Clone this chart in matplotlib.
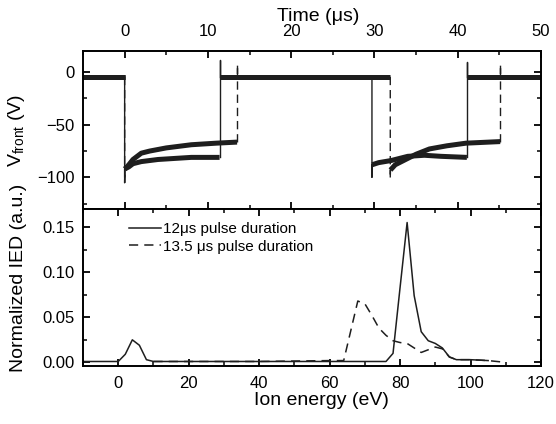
import matplotlib
matplotlib.use('Agg')
import matplotlib.pyplot as plt
from matplotlib.ticker import MultipleLocator, FormatStrFormatter
import numpy as np

plt.rcParams['font.family'] = ['Liberation Sans', 'DejaVu Sans']

# ---- Upper panel: front voltage vs time ----
time_12 = [-5, 0, 0, 0.02, 0.5, 1, 2, 4, 8, 11.4, 11.4, 11.4,
           29.7, 29.7, 29.72, 30.5, 32, 34, 36, 38, 41.1, 41.1, 41.1, 50]
vfront_12 = [-4.5, -4.5, -105, -92, -90, -87, -85, -83, -81, -81, 11, -4.5,
             -4.5, -100, -88, -86, -84, -80, -79, -80, -81, 9.5, -4.5, -4.5]

time_135 = [-5, 0, 0, 0.02, 0.5, 1, 2, 3, 5, 8, 11, 13.5, 13.5, 13.5,
            31.9, 31.9, 31.92, 32.5, 33.5, 35, 36.6, 38.7, 41, 45.1, 45.1, 45.1, 50]
vfront_135 = [-4.5, -4.5, -105, -92, -88, -83, -77, -75, -72, -69, -67.5, -66.5, 8, -4.5,
              -4.5, -101, -93, -88, -84, -78, -73, -70, -67.5, -66, 8, -4.5, -4.5]

# ---- Lower panel: normalized IED vs ion energy ----
energy_12 = [-10, 0, 2, 4, 6, 8, 10, 20, 40, 60, 76, 78, 80, 82, 84, 86, 88, 90, 92, 94, 96, 100, 105]
ied_12 = [0.001, 0.001, 0.009, 0.025, 0.019, 0.003, 0.001, 0.001, 0.001, 0.001, 0.001, 0.010,
          0.083, 0.155, 0.074, 0.034, 0.024, 0.021, 0.016, 0.006, 0.003, 0.003, 0.002]

energy_135 = [10, 20, 40, 60, 64, 68, 70, 72, 74, 76, 78, 80, 82, 84, 86, 88, 90, 92, 94, 96, 100, 105, 110]
ied_135 = [0.001, 0.001, 0.001, 0.002, 0.002, 0.068, 0.065, 0.052, 0.038, 0.030, 0.024, 0.022,
           0.021, 0.016, 0.011, 0.014, 0.017, 0.015, 0.006, 0.003, 0.003, 0.002, 0.000]

labels = ['12\u03bcs pulse duration', '13.5 \u03bcs pulse duration']

ink = '#1e1e1e'

fig = plt.figure(figsize=(5.56, 4.24), dpi=100)
ax1 = fig.add_axes([0.1493, 0.5071, 0.8237, 0.3726])
ax2 = fig.add_axes([0.1493, 0.1368, 0.8237, 0.3703])


def draw_trace(ax, t, v, ls):
    t = np.asarray(t, float)
    v = np.asarray(v, float)
    dt = np.diff(t)
    edge = dt <= 0.05
    start = 0
    n = len(dt)
    for i in range(1, n + 1):
        if i == n or edge[i] != edge[start]:
            st, sv = t[start:i + 1], v[start:i + 1]
            if edge[start]:
                ax.plot(st, sv, color=ink, lw=1.0, ls=ls)
            else:
                ax.plot(st, sv, color=ink, lw=3.6, ls='-', solid_capstyle='butt')
            start = i


draw_trace(ax1, time_12, vfront_12, '-')
draw_trace(ax1, time_135, vfront_135, (0, (6, 3.5)))

ax1.set_xlim(-5, 50)
ax1.set_ylim(-130, 20)
ax1.xaxis.set_major_locator(MultipleLocator(10))
ax1.xaxis.set_minor_locator(MultipleLocator(5))
ax1.yaxis.set_major_locator(MultipleLocator(50))
ax1.yaxis.set_minor_locator(MultipleLocator(25))
ax1.xaxis.set_label_position('top')
ax1.set_xlabel('Time (\u03bcs)', fontsize=14, labelpad=2)
ax1.xaxis.label.set_x(0.513)
ax1.set_ylabel(r'V$_{\mathregular{front}}$ (V)', fontsize=14)
ax1.yaxis.set_label_coords(-0.122, 0.5)

l1, = ax2.plot(energy_12, ied_12, color=ink, lw=1.1, ls='-')
l2, = ax2.plot(energy_135, ied_135, color=ink, lw=1.1, ls=(0, (6, 4)))
ax2.set_xlim(-10, 120)
ax2.set_ylim(-0.004, 0.17)
ax2.xaxis.set_major_locator(MultipleLocator(20))
ax2.xaxis.set_minor_locator(MultipleLocator(10))
ax2.yaxis.set_major_locator(MultipleLocator(0.05))
ax2.yaxis.set_minor_locator(MultipleLocator(0.025))
ax2.yaxis.set_major_formatter(FormatStrFormatter('%.2f'))
ax2.set_xlabel('Ion energy (eV)', fontsize=14, labelpad=1)
ax2.xaxis.label.set_x(0.52)
ax2.set_ylabel('Normalized IED (a.u.)', fontsize=14)
ax2.yaxis.set_label_coords(-0.122, 0.56)

ax2.legend([l1, l2], labels, loc='upper left', bbox_to_anchor=(0.1, 0.917),
           frameon=False, fontsize=11, handlelength=2.1, handletextpad=0.15,
           borderpad=0, borderaxespad=0, labelspacing=0.25)

for ax in (ax1, ax2):
    for s in ax.spines.values():
        s.set_linewidth(1.4)
    ax.tick_params(which='both', direction='in', top=True, bottom=True,
                   left=True, right=True, labelsize=12)
    ax.tick_params(which='major', length=5, width=1.3)
    ax.tick_params(which='minor', length=3, width=1.1)
    ax.tick_params(axis='y', pad=6)

ax1.tick_params(axis='x', labeltop=True, labelbottom=False, pad=8.5)
ax2.tick_params(axis='x', labeltop=False, labelbottom=True, pad=7)

fig.savefig('out.png', dpi=100)
